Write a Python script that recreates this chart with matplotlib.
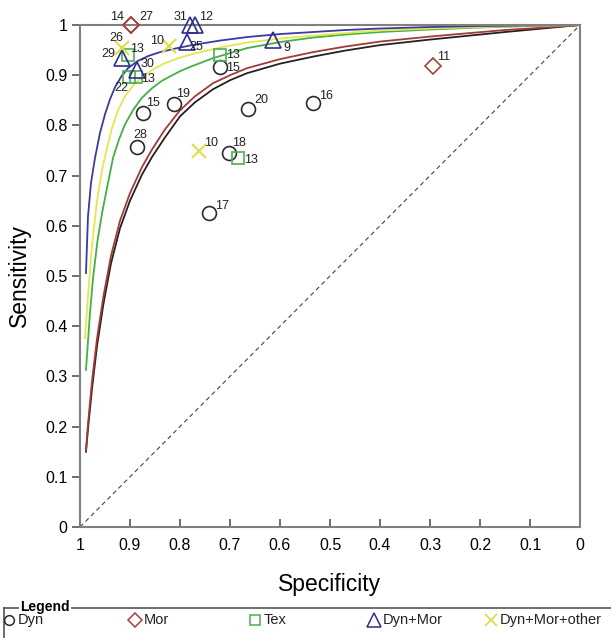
import matplotlib.pyplot as plt
from matplotlib.lines import Line2D

plt.rcParams["font.family"] = ["Liberation Sans", "DejaVu Sans"]

# study points (specificity, sensitivity, study id)
dyn_spec = [0.874, 0.812, 0.664, 0.72, 0.534, 0.886, 0.702, 0.742]
dyn_sens = [0.825, 0.843, 0.833, 0.916, 0.845, 0.757, 0.745, 0.625]
dyn_ids = ["15", "19", "20", "15", "16", "28", "18", "17"]

mor_spec = [0.898, 0.898, 0.294]
mor_sens = [1.0, 1.0, 0.918]
mor_ids = ["14", "27", "11"]

tex_spec = [0.72, 0.684, 0.904, 0.902, 0.888]
tex_sens = [0.94, 0.735, 0.94, 0.896, 0.896]
tex_ids = ["13", "13", "13", "22", "13"]

dm_spec = [0.78, 0.77, 0.786, 0.614, 0.916, 0.886]
dm_sens = [1.0, 1.0, 0.966, 0.970, 0.934, 0.910]
dm_ids = ["31", "12", "25", "9", "29", "30"]

dmo_spec = [0.916, 0.822, 0.762]
dmo_sens = [0.954, 0.958, 0.749]
dmo_ids = ["26", "10", "10"]

# SROC curves
blue_spec = [0.988, 0.984, 0.978, 0.97, 0.96, 0.95, 0.94, 0.93, 0.917, 0.904, 0.885, 0.864, 0.84,
             0.81, 0.776, 0.72, 0.666, 0.6, 0.534, 0.47, 0.40, 0.3, 0.2, 0.1, 0.0]
blue_sens = [0.506, 0.618, 0.685, 0.735, 0.785, 0.822, 0.852, 0.876, 0.898, 0.914, 0.928, 0.938, 0.946,
             0.953, 0.96, 0.969, 0.976, 0.982, 0.986, 0.99, 0.993, 0.996, 0.998, 0.999, 1.0]

yellow_spec = [0.99, 0.984, 0.976, 0.966, 0.955, 0.946, 0.936, 0.923, 0.91, 0.893, 0.876, 0.855, 0.83,
               0.8, 0.776, 0.72, 0.666, 0.6, 0.534, 0.47, 0.40, 0.3, 0.2, 0.1, 0.0]
yellow_sens = [0.376, 0.46, 0.56, 0.65, 0.715, 0.755, 0.795, 0.832, 0.858, 0.88, 0.896, 0.911, 0.924,
               0.935, 0.942, 0.955, 0.965, 0.973, 0.979, 0.984, 0.989, 0.993, 0.996, 0.998, 1.0]

green_spec = [0.988, 0.98, 0.974, 0.965, 0.955, 0.945, 0.934, 0.922, 0.91, 0.893, 0.876, 0.856, 0.836,
              0.8, 0.776, 0.734, 0.666, 0.6, 0.534, 0.47, 0.40, 0.3, 0.2, 0.1, 0.0]
green_sens = [0.313, 0.426, 0.495, 0.57, 0.63, 0.68, 0.735, 0.772, 0.802, 0.832, 0.855, 0.874, 0.889,
              0.908, 0.918, 0.934, 0.954, 0.966, 0.975, 0.981, 0.986, 0.991, 0.995, 0.998, 1.0]

red_spec = [0.988, 0.984, 0.976, 0.966, 0.953, 0.938, 0.92, 0.9, 0.876, 0.856, 0.83, 0.80, 0.77,
            0.734, 0.7, 0.666, 0.6, 0.534, 0.47, 0.40, 0.3, 0.22, 0.15, 0.086, 0.0]
red_sens = [0.153, 0.205, 0.29, 0.375, 0.46, 0.54, 0.61, 0.665, 0.717, 0.752, 0.792, 0.83, 0.858,
            0.884, 0.9, 0.914, 0.932, 0.946, 0.957, 0.967, 0.977, 0.984, 0.99, 0.994, 1.0]

black_spec = [0.988, 0.984, 0.976, 0.966, 0.953, 0.938, 0.92, 0.9, 0.876, 0.856, 0.83, 0.80, 0.77,
              0.734, 0.7, 0.666, 0.6, 0.534, 0.47, 0.40, 0.3, 0.22, 0.15, 0.086, 0.0]
black_sens = [0.15, 0.195, 0.275, 0.36, 0.445, 0.525, 0.595, 0.65, 0.702, 0.737, 0.776, 0.818, 0.846,
              0.872, 0.89, 0.904, 0.923, 0.937, 0.949, 0.96, 0.971, 0.979, 0.986, 0.992, 1.0]

ticks = [0, 0.1, 0.2, 0.3, 0.4, 0.5, 0.6, 0.7, 0.8, 0.9, 1]
tick_labels = ["0", "0.1", "0.2", "0.3", "0.4", "0.5", "0.6", "0.7", "0.8", "0.9", "1"]

# label offsets in pixels
dyn_off = [(10, 10), (9, 10), (13, 9), (13, -1), (13, 7), (3, 12), (10, 10), (13, 7)]
mor_off = [(-14, 8), (15, 8), (11, 9)]
tex_off = [(13, 0), (13, -2), (9, 6), (-8, -11), (12, -2)]
dm_off = [(-9, 8), (11, 8), (9, -5), (14, -8), (-14, 4), (11, 6)]
dmo_off = [(-6, 10), (-12, 5), (12, 8)]

c_dyn = "#2b2b2b"
c_mor = "#a8403c"
c_tex = "#4caf50"
c_dm = "#2e2e8c"
c_dmo = "#dede48"

fig = plt.figure(figsize=(6.11, 6.38), dpi=100)
ax = fig.add_axes([0.1309, 0.174, 0.8184, 0.7868])

ax.plot([1, 0], [0, 1], color="#444444", lw=0.8, ls=(0, (4, 3)))

ax.plot(black_spec, black_sens, color="#222222", lw=1.3)
ax.plot(red_spec, red_sens, color="#a33a36", lw=1.3)
ax.plot(green_spec, green_sens, color="#44b044", lw=1.3)
ax.plot(yellow_spec, yellow_sens, color="#e6e650", lw=1.3)
ax.plot(blue_spec, blue_sens, color="#3a3aa0", lw=1.3)

groups = [
    (dyn_spec, dyn_sens, dyn_ids, dyn_off, "o", c_dyn, 10),
    (mor_spec, mor_sens, mor_ids, mor_off, "D", c_mor, 8.5),
    (tex_spec, tex_sens, tex_ids, tex_off, "s", c_tex, 9),
    (dm_spec, dm_sens, dm_ids, dm_off, "^", c_dm, 12),
    (dmo_spec, dmo_sens, dmo_ids, dmo_off, "x", c_dmo, 10),
]
for spec, sens, ids, offs, mk, col, ms in groups:
    if mk == "x":
        ax.plot(spec, sens, ls="none", marker=mk, ms=ms, mew=1.5, color=col, clip_on=False, zorder=5)
    else:
        ax.plot(spec, sens, ls="none", marker=mk, ms=ms, mew=1.2, mfc="none", mec=col,
                clip_on=False, zorder=5)
    for x, y, t, o in zip(spec, sens, ids, offs):
        ax.annotate(t, (x, y), xytext=o, textcoords="offset pixels", ha="center", va="center",
                    fontsize=9, color="#222222", zorder=6, annotation_clip=False)

ax.set_xlim(1, 0)
ax.set_ylim(0, 1)
ax.set_xticks(ticks)
ax.set_xticklabels(tick_labels)
ax.set_yticks(ticks)
ax.set_yticklabels(tick_labels)
ax.tick_params(axis="x", direction="in", length=6, width=1.2, color="#555555", labelsize=11.5, pad=8)
ax.tick_params(axis="y", direction="out", length=6, width=1.2, color="#555555", labelsize=11.5, pad=3)
for s in ax.spines.values():
    s.set_color("#808080")
    s.set_linewidth(1.5)
ax.set_xlabel("Specificity", fontsize=16.5, labelpad=14)
ax.set_ylabel("Sensitivity", fontsize=16.5, labelpad=10)

# legend box along the bottom
fig.add_artist(Line2D([4 / 611, 4 / 611], [0, 1 - 608 / 638], transform=fig.transFigure, color="#555555", lw=1.2))
fig.add_artist(Line2D([4 / 611, 1], [1 - 608 / 638, 1 - 608 / 638], transform=fig.transFigure, color="#555555", lw=1.2))
fig.text(20 / 611, 1 - 607 / 638, "Legend", fontsize=10, fontweight="bold", va="center", ha="left",
         bbox=dict(facecolor="white", edgecolor="none", pad=1))

leg_names = ["Dyn", "Mor", "Tex", "Dyn+Mor", "Dyn+Mor+other"]
leg_x = [9, 135, 255, 374, 491]
leg_style = [("o", c_dyn, 7), ("D", c_mor, 7), ("s", c_tex, 7), ("^", c_dm, 10), ("x", c_dmo, 8)]
ly = 1 - 620 / 638
for name, x, (mk, col, ms) in zip(leg_names, leg_x, leg_style):
    if mk == "x":
        fig.add_artist(Line2D([x / 611], [ly], marker=mk, ms=ms, mew=1.3, color=col, ls="none",
                              transform=fig.transFigure))
    else:
        fig.add_artist(Line2D([x / 611], [ly], marker=mk, ms=ms, mew=1.1, mfc="none", mec=col, ls="none",
                              transform=fig.transFigure))
    fig.text((x + 9) / 611, ly, name, fontsize=10.5, va="center", ha="left", color="#222222")

fig.savefig("out.png", dpi=100)
